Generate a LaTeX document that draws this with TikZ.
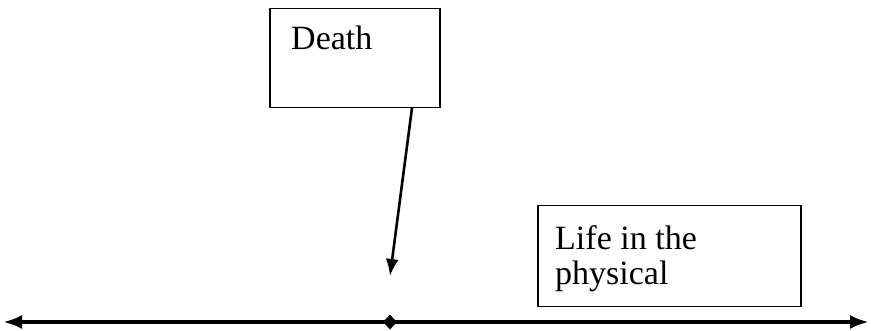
\documentclass[tikz,border=0pt]{standalone}
\usepackage{fontspec}
\setmainfont{Liberation Serif}
\usetikzlibrary{arrows.meta,shapes.geometric}
\begin{document}
\begin{tikzpicture}[x=1pt,y=-1pt,
  box/.style={draw,line width=1.5pt,anchor=north west,inner sep=0pt},
  lbl/.style={anchor=base west,font=\fontsize{34}{40}\selectfont,inner sep=0pt},
  conn/.style={line width=2.6pt,-{Latex[length=17pt,width=13pt]}},
  axis/.style={line width=3.8pt,{Latex[length=19pt,width=14pt]}-{Latex[length=19pt,width=14pt]}}]
\useasboundingbox (0,0) rectangle (871,331);
\node[box,minimum width=170pt,minimum height=99pt] (death) at (269,8) {};
\node[lbl] (deathtxt) at (291,50) {Death};
\node[box,minimum width=263pt,minimum height=101pt] (life) at (537,205) {};
\node[lbl] (life1) at (555,250) {Life in the};
\node[lbl] (life2) at (555,285) {physical};
\coordinate (L) at (3,322);
\coordinate (R) at (869,322);
\coordinate (start) at (412,108);
\coordinate (tip) at (390,276);
\draw[axis] (L) -- (R);
\node[diamond,fill=black,inner sep=0pt,minimum width=14pt,minimum height=15pt] (dm) at (390,322) {};
\draw[conn] (start) -- (tip);
\end{tikzpicture}
\end{document}
